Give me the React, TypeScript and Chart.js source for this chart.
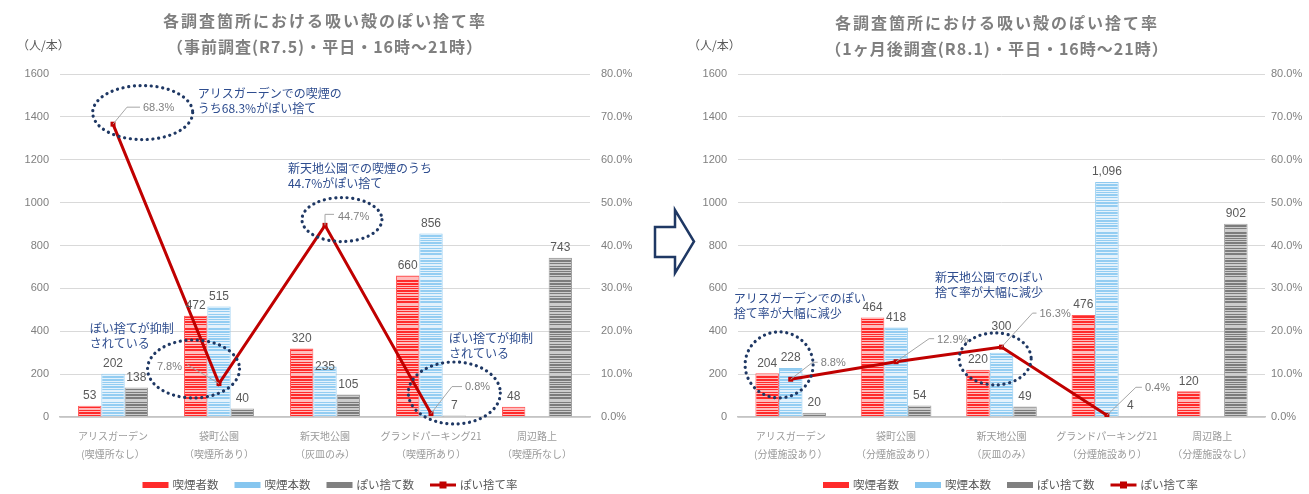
import React, { useEffect, useRef } from 'react';
import { Chart, registerables } from 'chart.js';

Chart.register(...registerables);

// ---------- data ----------
const seriesLabels = ['喫煙者数', '喫煙本数', 'ぽい捨て数', 'ぽい捨て率'];

const beforeCategories = [
  ['アリスガーデン', '(喫煙所なし）'],
  ['袋町公園', '（喫煙所あり）'],
  ['新天地公園', '（灰皿のみ）'],
  ['グランドパーキング21', '（喫煙所あり）'],
  ['周辺路上', '（喫煙所なし）'],
];
const beforeSmokers = [53, 472, 320, 660, 48];
const beforeCigarettes = [202, 515, 235, 856, null];
const beforeLitter = [138, 40, 105, 7, 743];
const beforeRate = [68.3, 7.8, 44.7, 0.8, null];

const afterCategories = [
  ['アリスガーデン', '(分煙施設あり）'],
  ['袋町公園', '（分煙施設あり）'],
  ['新天地公園', '（灰皿のみ）'],
  ['グランドパーキング21', '（分煙施設あり）'],
  ['周辺路上', '（分煙施設なし）'],
];
const afterSmokers = [204, 464, 220, 476, 120];
const afterCigarettes = [228, 418, 300, 1096, null];
const afterLitter = [20, 54, 49, 4, 902];
const afterRate = [8.8, 12.9, 16.3, 0.4, null];

const countMax = 1600;
const countStep = 200;
const rateMax = 80;
const rateStep = 10;

const beforeTitle = ['各調査箇所における吸い殻のぽい捨て率', '（事前調査(R7.5)・平日・16時～21時）'];
const afterTitle = ['各調査箇所における吸い殻のぽい捨て率', '（1ヶ月後調査(R8.1)・平日・16時～21時）'];
const unitLabel = '（人/本）';

const beforeNotes = [
  ['アリスガーデンでの喫煙の', 'うち68.3%がぽい捨て'],
  ['新天地公園での喫煙のうち', '44.7%がぽい捨て'],
  ['ぽい捨てが抑制', 'されている'],
  ['ぽい捨てが抑制', 'されている'],
];
const afterNotes = [
  ['アリスガーデンでのぽい', '捨て率が大幅に減少'],
  ['新天地公園でのぽい', '捨て率が大幅に減少'],
];

// ---------- placement of annotations (in axis units: category index / count) ----------
const beforeNotePlacement = [
  { xi: 0.8, yv: 1511 },
  { xi: 1.65, yv: 1161 },
  { xi: -0.22, yv: 412 },
  { xi: 3.17, yv: 368 },
];
const beforeEllipses = [
  { xi: 0.28, yv: 1420, rx: 50, ry: 27 },
  { xi: 2.16, yv: 921, rx: 40, ry: 22 },
  { xi: 0.76, yv: 224, rx: 46, ry: 29 },
  { xi: 3.22, yv: 112, rx: 46, ry: 31 },
];
const afterNotePlacement = [
  { xi: -0.54, yv: 555 },
  { xi: 1.37, yv: 653 },
];
const afterEllipses = [
  { xi: -0.11, yv: 243, rx: 34, ry: 33 },
  { xi: 1.94, yv: 271, rx: 36, ry: 26 },
];

type Leader = { dx: number; dy: number; align: 'left' | 'right'; ex: number; ey: number; tx: number; ty: number };
const beforeRateLabels: Leader[] = [
  { dx: 30, dy: -16, align: 'left', ex: 14, ey: -17, tx: 27, ty: -17 },
  { dx: -37, dy: -17, align: 'right', ex: -32, ey: -19, tx: -32, ty: -19 },
  { dx: 13, dy: -8, align: 'left', ex: 0, ey: -11, tx: 9, ty: -11 },
  { dx: 34, dy: -27, align: 'left', ex: 21, ey: -27, tx: 31, ty: -27 },
];
const afterRateLabels: Leader[] = [
  { dx: 30, dy: -16, align: 'left', ex: 22, ey: -17, tx: 27, ty: -17 },
  { dx: 41, dy: -22, align: 'left', ex: 33, ey: -23, tx: 38, ty: -23 },
  { dx: 38, dy: -33, align: 'left', ex: 31, ey: -34, tx: 35, ty: -34 },
  { dx: 38, dy: -27, align: 'left', ex: 29, ey: -28, tx: 35, ty: -28 },
];
const beforeBarLabelShift = [{ s: 1, i: 2, dy: 10 }];
const afterBarLabelShift = [{ s: 1, i: 2, dy: -16 }];

// ---------- styles ----------
const CJK = '"Noto Sans CJK JP", "Noto Sans", sans-serif';
const LAT = '"Liberation Sans", Arial, sans-serif';
const RED = '#ff2b2b';
const BLUE = '#86c6ef';
const GRAY = '#808080';
const LINE = '#c00000';
const NOTE = '#2e4d8f';
const DOTS = '#1f3864';

const stripeSeq = '010010110100100111010010110100101001011100100101';

function stripePattern(ctx: CanvasRenderingContext2D, base: string, light: string) {
  const c = document.createElement('canvas');
  c.width = 4;
  c.height = stripeSeq.length;
  const g = c.getContext('2d')!;
  for (let i = 0; i < stripeSeq.length; i++) {
    g.fillStyle = stripeSeq[i] === '1' ? light : base;
    g.fillRect(0, i, 4, 1);
  }
  return ctx.createPattern(c, 'repeat')!;
}

function fmt(v: number) {
  return v.toLocaleString('en-US');
}

type Props = {
  left: number;
  width: number;
  yWidth: number;
  y1Width: number;
  y1Pad: number;
  catPct: number;
  categories: string[][];
  smokers: (number | null)[];
  cigarettes: (number | null)[];
  litter: (number | null)[];
  rate: (number | null)[];
  title: string[];
  titleY: number[];
  unitX: number;
  notes: string[][];
  notePlacement: { xi: number; yv: number }[];
  ellipses: { xi: number; yv: number; rx: number; ry: number }[];
  rateLabels: Leader[];
  barShift: { s: number; i: number; dy: number }[];
  legendDx: number;
};

function ComboChart(p: Props) {
  const ref = useRef<HTMLCanvasElement>(null);
  useEffect(() => {
    const canvas = ref.current!;
    const ctx = canvas.getContext('2d')!;
    const redP = stripePattern(ctx, '#ff2a2a', '#ffbcbc');
    const blueP = stripePattern(ctx, '#93cdf2', '#e4f2fc');
    const grayP = stripePattern(ctx, '#7c7c7c', '#cccccc');

    const overlay = {
      id: 'overlay',
      afterDraw(chart: any) {
        const c: CanvasRenderingContext2D = chart.ctx;
        const area = chart.chartArea;
        const xs = chart.scales.x;
        const ys = chart.scales.y;
        c.save();
        // titles
        c.fillStyle = '#7f7f7f';
        c.textAlign = 'center';
        c.textBaseline = 'middle';
        c.font = `bold 16px ${CJK}`;
        (c as any).letterSpacing = '2px';
        c.fillText(p.title[0], chart.width / 2, p.titleY[0]);
        (c as any).letterSpacing = '1px';
        c.fillText(p.title[1], chart.width / 2, p.titleY[1]);
        (c as any).letterSpacing = '0px';
        // unit
        c.font = `12px ${CJK}`;
        c.fillStyle = '#595959';
        c.textAlign = 'left';
        c.fillText(unitLabel, p.unitX, 45);

        // bar value labels
        c.font = `12px ${LAT}`;
        c.fillStyle = '#595959';
        c.textAlign = 'center';
        c.textBaseline = 'bottom';
        for (let s = 0; s < 3; s++) {
          const meta = chart.getDatasetMeta(s);
          const data = chart.data.datasets[s].data;
          meta.data.forEach((el: any, i: number) => {
            const v = data[i];
            if (v == null) return;
            const sh = p.barShift.find((b) => b.s === s && b.i === i);
            c.fillText(fmt(v), el.x, el.y - 4 + (sh ? sh.dy : 0));
          });
        }

        // rate labels with leader lines
        const lm = chart.getDatasetMeta(3);
        const rd = chart.data.datasets[3].data;
        c.font = `11px ${LAT}`;
        c.textBaseline = 'middle';
        lm.data.forEach((el: any, i: number) => {
          const v = rd[i];
          if (v == null) return;
          const L = p.rateLabels[i];
          c.strokeStyle = '#a6a6a6';
          c.lineWidth = 1;
          c.beginPath();
          c.moveTo(el.x, el.y);
          c.lineTo(el.x + L.ex, el.y + L.ey);
          c.lineTo(el.x + L.tx, el.y + L.ty);
          c.stroke();
          c.fillStyle = '#7f7f7f';
          c.textAlign = L.align;
          c.fillText(v.toFixed(1) + '%', el.x + L.dx, el.y + L.dy);
        });

        // ellipses
        c.strokeStyle = DOTS;
        c.lineWidth = 3.2;
        c.lineCap = 'round';
        c.setLineDash([0.1, 5.6]);
        p.ellipses.forEach((e) => {
          c.beginPath();
          c.ellipse(xs.getPixelForValue(e.xi), ys.getPixelForValue(e.yv), e.rx, e.ry, 0, 0, Math.PI * 2);
          c.stroke();
        });
        c.setLineDash([]);
        c.lineCap = 'butt';

        // notes
        c.font = `12px ${CJK}`;
        c.fillStyle = NOTE;
        c.textAlign = 'left';
        c.textBaseline = 'middle';
        p.notes.forEach((lines, k) => {
          const pl = p.notePlacement[k];
          const x = xs.getPixelForValue(pl.xi);
          const y = ys.getPixelForValue(pl.yv);
          lines.forEach((t, j) => c.fillText(t, x, y + j * 15));
        });

        // legend
        const colors = [RED, BLUE, GRAY];
        c.font = `11.5px ${CJK}`;
        const box = 26;
        const gap = 4;
        const itemGap = 16;
        const widths = chart.data.datasets.map((d: any) => box + gap + c.measureText(d.label).width);
        const total = widths.reduce((a: number, b: number) => a + b, 0) + itemGap * (widths.length - 1);
        let lx = (area.left + area.right) / 2 - total / 2 + p.legendDx;
        const ly = 485;
        chart.data.datasets.forEach((d: any, i: number) => {
          if (i < 3) {
            c.fillStyle = colors[i];
            c.fillRect(lx, ly - 3, box, 6);
          } else {
            c.strokeStyle = LINE;
            c.lineWidth = 3;
            c.beginPath();
            c.moveTo(lx, ly);
            c.lineTo(lx + box, ly);
            c.stroke();
            c.fillStyle = LINE;
            c.fillRect(lx + box / 2 - 3.5, ly - 3.5, 7, 7);
          }
          c.fillStyle = '#595959';
          c.textAlign = 'left';
          c.fillText(d.label, lx + box + gap, ly);
          lx += widths[i] + itemGap;
        });
        c.restore();
      },
    };

    const barCommon = {
      type: 'bar' as const,
      yAxisID: 'y',
      borderWidth: 1,
      categoryPercentage: p.catPct,
      barPercentage: 1,
      order: 1,
    };

    const chart = new Chart(canvas, {
      type: 'bar',
      data: {
        labels: p.categories as any,
        datasets: [
          { ...barCommon, label: seriesLabels[0], data: p.smokers, backgroundColor: redP, borderColor: '#ff5a5a' },
          { ...barCommon, label: seriesLabels[1], data: p.cigarettes, backgroundColor: blueP, borderColor: '#8fcaf0' },
          { ...barCommon, label: seriesLabels[2], data: p.litter, backgroundColor: grayP, borderColor: '#a0a0a0' },
          {
            type: 'line',
            label: seriesLabels[3],
            data: p.rate,
            yAxisID: 'y1',
            borderColor: LINE,
            backgroundColor: LINE,
            borderWidth: 3,
            pointStyle: 'rect',
            pointRadius: 3.5,
            pointBorderWidth: 0,
            spanGaps: false,
            order: 0,
          },
        ] as any,
      },
      options: {
        animation: false,
        responsive: false,
        maintainAspectRatio: false,
        devicePixelRatio: 1,
        layout: { padding: { top: 74, bottom: 0, left: 0, right: 0 } },
        plugins: {
          legend: { display: false },
          title: { display: false },
          tooltip: { enabled: false },
        },
        scales: {
          x: {
            grid: { display: false, drawTicks: false },
            border: { display: true, color: '#c4c4c4', width: 1.5 },
            ticks: {
              color: '#9a9a9a',
              font: { family: CJK, size: 10, lineHeight: 1.8 },
              padding: 10,
              maxRotation: 0,
              autoSkip: false,
            },
            afterFit: (s: any) => {
              s.height = 77;
            },
          },
          y: {
            position: 'left',
            min: 0,
            max: countMax,
            ticks: {
              stepSize: countStep,
              color: '#7f7f7f',
              font: { family: LAT, size: 11 },
              padding: 11,
              callback: (v: any) => String(v),
            },
            grid: { color: '#d9d9d9', drawTicks: false, lineWidth: 1 },
            border: { display: false },
            afterFit: (s: any) => {
              s.width = p.yWidth;
            },
          },
          y1: {
            position: 'right',
            min: 0,
            max: rateMax,
            ticks: {
              stepSize: rateStep,
              color: '#7f7f7f',
              font: { family: LAT, size: 11 },
              padding: p.y1Pad,
              callback: (v: any) => Number(v).toFixed(1) + '%',
            },
            grid: { display: false, drawTicks: false },
            border: { display: false },
            afterFit: (s: any) => {
              s.width = p.y1Width;
            },
          },
        },
      } as any,
      plugins: [overlay],
    });
    return () => chart.destroy();
  }, []);
  return (
    <canvas
      ref={ref}
      width={p.width}
      height={494}
      style={{ position: 'absolute', left: p.left, top: 0, width: p.width, height: 494 }}
    />
  );
}

export default function App() {
  return (
    <div style={{ position: 'absolute', left: 0, top: 0, width: 1309, height: 494, background: '#fff', overflow: 'hidden' }}>
      <ComboChart
        left={0}
        width={650}
        yWidth={60}
        y1Width={60}
        y1Pad={11}
        catPct={0.66}
        categories={beforeCategories}
        smokers={beforeSmokers}
        cigarettes={beforeCigarettes}
        litter={beforeLitter}
        rate={beforeRate}
        title={beforeTitle}
        titleY={[21, 47]}
        unitX={17}
        notes={beforeNotes}
        notePlacement={beforeNotePlacement}
        ellipses={beforeEllipses}
        rateLabels={beforeRateLabels}
        barShift={beforeBarLabelShift}
        legendDx={5}
      />
      <ComboChart
        left={685}
        width={624}
        yWidth={53}
        y1Width={44}
        y1Pad={6}
        catPct={0.67}
        categories={afterCategories}
        smokers={afterSmokers}
        cigarettes={afterCigarettes}
        litter={afterLitter}
        rate={afterRate}
        title={afterTitle}
        titleY={[23, 49]}
        unitX={3}
        notes={afterNotes}
        notePlacement={afterNotePlacement}
        ellipses={afterEllipses}
        rateLabels={afterRateLabels}
        barShift={afterBarLabelShift}
        legendDx={9}
      />
      <svg width={1309} height={494} style={{ position: 'absolute', left: 0, top: 0, pointerEvents: 'none' }}>
        <polygon
          points="655,227 675,227 675,210 694,241.5 675,273 675,257 655,257"
          fill="#ffffff"
          stroke="#1f3864"
          strokeWidth={2.5}
          strokeLinejoin="miter"
        />
      </svg>
    </div>
  );
}
